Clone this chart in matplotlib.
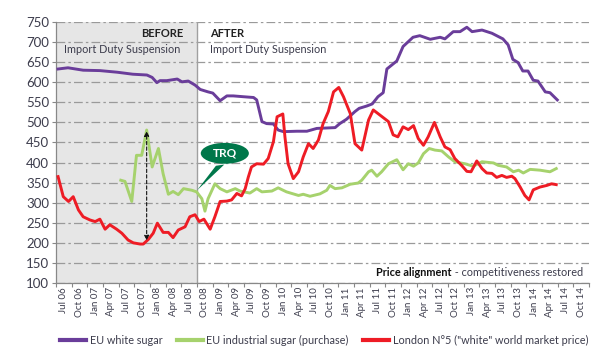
import matplotlib
matplotlib.use('Agg')
import matplotlib.pyplot as plt
from matplotlib.lines import Line2D
from matplotlib.patches import Ellipse, Polygon

plt.rcParams['font.family'] = ['Lato', 'DejaVu Sans']

# months counted from the start of Jul 06
quarters = ['Jul 06', 'Oct 06', 'Jan 07', 'Apr 07', 'Jul 07', 'Oct 07', 'Jan 08', 'Apr 08',
            'Jul 08', 'Oct 08', 'Jan 09', 'Apr 09', 'Jul 09', 'Oct 09', 'Jan 10', 'Apr 10',
            'Jul 10', 'Oct 10', 'Jan 11', 'Apr 11', 'Jul 11', 'Oct 11', 'Jan 12', 'Apr 12',
            'Jul 12', 'Oct 12', 'Jan 13', 'Apr 13', 'Jul 13', 'Oct 13', 'Jan 14', 'Apr 14',
            'Jul 14', 'Oct 14']

white_m = [0.4, 2.3, 5.2, 8.4, 11.7, 14.7, 17.4, 18.4, 19.3, 19.9, 21.2, 23.2, 24.1, 25.3,
           26.6, 27.6, 29.1, 30.0, 31.4, 32.7, 33.9, 35.8, 37.8, 38.4, 39.4, 40.3, 41.6,
           42.5, 43.5, 46.1, 48.0, 49.9, 53.4, 54.3, 55.6, 57.2, 58.0, 59.5, 60.5, 61.6,
           62.6, 63.3, 65.2, 66.4, 68.3, 69.6, 71.6, 73.5, 74.4, 76.0, 77.3, 78.6, 79.6,
           81.5, 83.4, 85.5, 86.5, 87.4, 88.4, 89.3, 90.3, 91.3, 92.2, 93.6, 94.5, 95.9]
white_v = [633, 636, 630, 629, 625, 620, 618, 612, 599, 604, 604, 608, 601, 603,
           593, 582, 576, 573, 554, 566, 566, 564, 562, 556, 502, 497, 496,
           481, 477, 478, 478, 485, 487, 497, 508, 527, 535, 541, 546, 564,
           574, 633, 653, 689, 712, 716, 707, 712, 708, 726, 726, 737, 726,
           730, 722, 708, 693, 657, 649, 628, 628, 605, 603, 576, 574, 556]

ind_m = [12.4, 13.2, 14.5, 15.4, 16.4, 17.35, 18.4, 19.6, 20.5, 21.5, 22.4, 23.4, 24.4,
         26.0, 26.9, 27.9, 28.5, 29.1, 30.4, 31.4, 32.7, 34.3, 35.2, 37.1, 38.4, 39.4,
         41.3, 42.5, 44.1, 46.4, 47.3, 48.6, 50.5, 51.8, 52.4, 53.4, 54.7, 56.3, 57.8,
         58.5, 59.8, 60.4, 61.4, 62.3, 63.6, 65.2, 66.4, 67.4, 68.4, 69.3, 70.3, 71.4,
         72.5, 73.8, 75.1, 76.3, 78.2, 79.8, 81.5, 83.7, 84.6, 86.2, 87.5, 88.5, 89.4,
         90.7, 92.6, 94.5, 95.7]
ind_v = [356, 353, 303, 418, 418, 481, 389, 435, 372, 321, 328, 320, 335,
         331, 327, 310, 279, 310, 347, 335, 327, 335, 329, 324, 335, 327,
         329, 337, 327, 318, 321, 316, 322, 331, 343, 335, 337, 346, 349,
         356, 377, 381, 366, 377, 397, 407, 382, 397, 391, 399, 422, 435,
         431, 429, 414, 402, 397, 391, 402, 399, 393, 389, 377, 381, 374,
         383, 381, 377, 385]

london_m = [0.4, 1.4, 2.4, 3.3, 4.3, 5.2, 6.5, 7.5, 8.4, 9.4, 10.3, 11.6, 12.6, 13.8,
            14.8, 16.1, 16.7, 17.7, 18.6, 19.4, 20.5, 21.5, 22.4, 23.4, 24.7, 25.6,
            26.6, 27.4, 28.3, 29.5, 30.4, 31.4, 32.7, 33.6, 34.6, 35.5, 36.2, 36.8,
            37.4, 38.4, 39.7, 40.6, 41.6, 42.3, 43.4, 43.8, 44.4, 45.4, 46.4, 47.3,
            48.3, 49.2, 50.2, 51.1, 52.1, 53.1, 54.1, 55.0, 56.3, 57.2, 58.5, 59.8,
            60.7, 62.0, 63.6, 64.5, 65.4, 66.4, 67.4, 68.4, 69.3, 70.3, 71.2, 72.4,
            73.5, 74.4, 75.4, 76.3, 77.6, 78.6, 79.4, 80.5, 81.5, 82.4, 83.4, 84.3,
            85.3, 86.2, 87.2, 87.8, 88.8, 89.7, 90.5, 91.3, 92.6, 93.9, 94.8, 95.7]
london_v = [365, 315, 303, 315, 282, 265, 257, 253, 259, 234, 245, 234, 224, 207,
            200, 197, 197, 209, 224, 249, 226, 226, 213, 232, 240, 265,
            270, 253, 259, 234, 265, 303, 304, 307, 323, 317, 335, 364,
            389, 397, 396, 410, 452, 514, 521, 464, 397, 360, 377, 414,
            447, 435, 456, 497, 527, 576, 587, 564, 522, 447, 431, 506,
            531, 518, 502, 469, 464, 489, 482, 492, 460, 443, 464, 500,
            464, 439, 432, 410, 393, 378, 377, 404, 385, 374, 373, 363,
            368, 363, 366, 360, 339, 318, 307, 332, 339, 343, 347, 345]

c_white = '#6a3d9a'
c_ind = '#a6d26d'
c_london = '#ee1c25'
c_grid = '#9a9a9a'
c_txt = '#3c3c4c'

fig = plt.figure(figsize=(6.15, 3.58), dpi=100)
ax = fig.add_axes([0.091, 0.2095, 0.867, 0.729])

ax.axvspan(0, 27, color='#e6e6e6', zorder=0, lw=0)
ax.axvline(27, color='#a0a0a0', lw=1.0, zorder=1)

ax.plot(white_m, white_v, color=c_white, lw=2.1, zorder=3, solid_joinstyle='round')
ax.plot(ind_m, ind_v, color=c_ind, lw=2.1, zorder=3, solid_joinstyle='round')
ax.plot(london_m, london_v, color=c_london, lw=2.1, zorder=4, solid_joinstyle='round')

ax.set_xlim(0, 102)
ax.set_ylim(100, 750)
ax.set_yticks(range(100, 751, 50))
ax.yaxis.grid(True, color=c_grid, lw=0.9, linestyle=(0, (7, 2.5, 2, 2.5)), zorder=1)
ax.set_axisbelow(True)

ax.set_xticks(range(0, 103, 3))
ax.set_xticklabels([])
ax.set_xticks([1.5 + 3 * i for i in range(len(quarters))], minor=True)
ax.set_xticklabels(quarters, minor=True, rotation=90, fontsize=7, color=c_txt)
ax.tick_params(axis='x', which='major', length=3, color='#888888', direction='out')
ax.tick_params(axis='x', which='minor', length=0, pad=3)
ax.tick_params(axis='y', length=3, color='#888888', labelsize=9.5, labelcolor=c_txt, pad=2)

for s in ['top', 'right']:
    ax.spines[s].set_visible(False)
for s in ['left', 'bottom']:
    ax.spines[s].set_color('#888888')
    ax.spines[s].set_linewidth(0.9)

ax.text(24.3, 722, 'BEFORE', ha='right', va='center', fontsize=8, fontweight='bold', color='#222222')
ax.text(1.5, 681, 'Import Duty Suspension', ha='left', va='center', fontsize=7.8, color=c_txt)
ax.text(29.5, 722, 'AFTER', ha='left', va='center', fontsize=8, fontweight='bold', color='#222222')
ax.text(29.5, 681, 'Import Duty Suspension', ha='left', va='center', fontsize=7.8, color=c_txt)

sub = ax.text(100.8, 126, ' - competitiveness restored', ha='right', va='center',
              fontsize=7.8, color=c_txt)
fig.canvas.draw()
bb = sub.get_window_extent(fig.canvas.get_renderer()).transformed(ax.transData.inverted())
ax.text(bb.x0, 126, 'Price alignment', ha='right', va='center', fontsize=7.8,
        fontweight='bold', color='#111111')

# TRQ call-out
ax.add_patch(Polygon([(30.6, 392), (32.2, 395), (27.0, 331)], closed=True,
                     color='#00774a', zorder=5, lw=0))
ax.add_patch(Ellipse((32.3, 423), 9.2, 52, color='#00774a', zorder=5, lw=0))
ax.text(32.3, 423, 'TRQ', ha='center', va='center', color='white', fontsize=8.5,
        fontweight='bold', zorder=6)

ax.annotate('', xy=(17.35, 478), xytext=(17.35, 206),
            arrowprops=dict(arrowstyle='<|-|>', linestyle=(0, (3, 2)), color='#111111',
                            lw=0.8, mutation_scale=7, shrinkA=0, shrinkB=0), zorder=6)

handles = [Line2D([], [], color=c_white, lw=3),
           Line2D([], [], color=c_ind, lw=3),
           Line2D([], [], color=c_london, lw=3)]
labels = ['EU white sugar', 'EU industrial sugar (purchase)',
          'London N°5 ("white" world market price)']
leg = fig.legend(handles, labels, loc='center', bbox_to_anchor=(0.527, 0.05), ncol=3,
                 frameon=False, fontsize=7.8, handlelength=2.4, handletextpad=0.35,
                 columnspacing=1.3)
for txt in leg.get_texts():
    txt.set_color(c_txt)

fig.savefig('out.png', dpi=100)
